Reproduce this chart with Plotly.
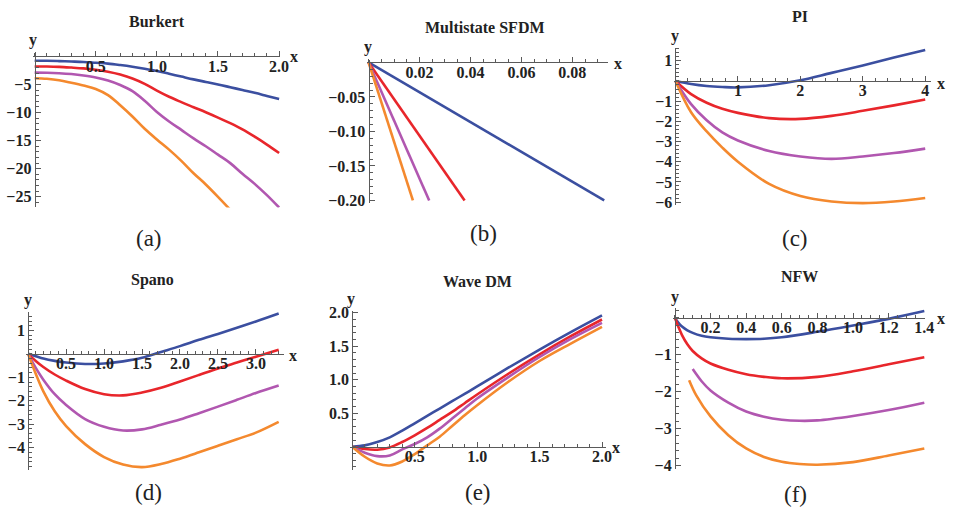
import plotly.graph_objects as go

W, H = 956, 526
BLUE, RED, PURPLE, ORANGE = '#3B4FA0', '#E8262B', '#B157B0', '#F4892E'
COLORS = [BLUE, RED, PURPLE, ORANGE]

# ---------------- data ----------------
# (a) Burkert
burkert_x = [0, 0.1, 0.2, 0.3, 0.4, 0.5, 0.6, 0.7, 0.8, 0.9, 1.0, 1.1, 1.2, 1.3, 1.4, 1.5, 1.6, 1.7, 1.8, 1.9, 2.0]
burkert_blue = [-0.8, -0.8, -0.85, -0.92, -1.0, -1.15, -1.3, -1.55, -1.85, -2.2, -2.6, -3.1, -3.6, -4.1, -4.55, -5.0, -5.5, -6.0, -6.5, -7.05, -7.6]
burkert_red = [-1.8, -1.82, -1.88, -2.0, -2.15, -2.4, -2.75, -3.25, -3.95, -4.9, -6.1, -7.2, -8.15, -9.05, -9.95, -10.9, -11.9, -13.0, -14.3, -15.7, -17.2]
burkert_purple = [-2.9, -2.92, -3.0, -3.15, -3.4, -3.75, -4.3, -5.1, -6.2, -7.9, -9.9, -11.6, -13.1, -14.6, -16.0, -17.5, -19.0, -20.9, -22.7, -24.7, -26.9]
burkert_orange_x = [0, 0.1, 0.2, 0.3, 0.4, 0.5, 0.6, 0.7, 0.8, 0.9, 1.0, 1.1, 1.2, 1.3, 1.4, 1.5, 1.6]
burkert_orange = [-3.9, -4.0, -4.25, -4.7, -5.2, -5.8, -6.9, -8.7, -10.7, -12.9, -14.8, -16.6, -18.6, -20.8, -22.8, -25.0, -27.3]

# (b) Multistate SFDM (straight lines from the origin)
sfdm_x_end = [0.0925, 0.0377, 0.0238, 0.0174]
sfdm_y = [0, -0.2]

# (c) PI
pi_x = [0, 0.25, 0.5, 0.75, 1.0, 1.5, 2.0, 2.5, 3.0, 3.5, 4.0]
pi_blue = [0, -0.15, -0.25, -0.3, -0.32, -0.21, 0.03, 0.4, 0.77, 1.16, 1.53]
pi_red = [0, -0.65, -1.08, -1.38, -1.58, -1.84, -1.88, -1.73, -1.48, -1.21, -0.92]
pi_purple = [0, -1.15, -1.95, -2.55, -2.95, -3.47, -3.74, -3.86, -3.74, -3.57, -3.35]
pi_orange = [0, -1.55, -2.5, -3.3, -4.0, -5.1, -5.7, -5.97, -6.05, -5.97, -5.8]

# (d) Spano
spano_x = [0, 0.1, 0.2, 0.35, 0.5, 0.75, 1.0, 1.25, 1.5, 1.75, 2.0, 2.25, 2.5, 2.75, 3.0, 3.3]
spano_blue = [0, -0.1, -0.2, -0.3, -0.37, -0.43, -0.41, -0.32, -0.17, 0.08, 0.33, 0.6, 0.85, 1.11, 1.38, 1.72]
spano_red = [0, -0.3, -0.56, -0.88, -1.14, -1.5, -1.72, -1.77, -1.65, -1.45, -1.18, -0.9, -0.62, -0.37, -0.12, 0.18]
spano_purple = [0, -0.6, -1.1, -1.72, -2.18, -2.78, -3.11, -3.27, -3.22, -3.02, -2.8, -2.53, -2.25, -1.96, -1.67, -1.35]
spano_orange = [0, -0.85, -1.6, -2.45, -3.08, -3.85, -4.4, -4.72, -4.83, -4.7, -4.47, -4.2, -3.92, -3.64, -3.36, -2.9]

# (e) Wave DM
wave_x = [0, 0.1, 0.2, 0.3, 0.4, 0.5, 0.6, 0.7, 0.8, 0.9, 1.0, 1.25, 1.5, 1.75, 2.0]
wave_blue = [0, 0.02, 0.07, 0.14, 0.24, 0.35, 0.46, 0.57, 0.68, 0.79, 0.9, 1.18, 1.45, 1.71, 1.96]
wave_red = [0, -0.035, -0.045, -0.01, 0.07, 0.17, 0.28, 0.4, 0.52, 0.65, 0.78, 1.09, 1.38, 1.65, 1.9]
wave_purple = [0, -0.09, -0.14, -0.13, -0.04, 0.04, 0.14, 0.27, 0.42, 0.57, 0.72, 1.04, 1.34, 1.61, 1.85]
wave_orange = [0, -0.15, -0.25, -0.28, -0.22, -0.11, 0.02, 0.15, 0.31, 0.47, 0.62, 0.97, 1.28, 1.54, 1.79]

# (f) NFW
nfw_x = [0, 0.02, 0.04, 0.07, 0.1, 0.15, 0.2, 0.3, 0.4, 0.5, 0.6, 0.8, 1.0, 1.2, 1.4]
nfw_blue = [0, -0.14, -0.24, -0.34, -0.41, -0.49, -0.53, -0.57, -0.58, -0.57, -0.53, -0.38, -0.21, -0.03, 0.18]
nfw_red = [0, -0.25, -0.47, -0.72, -0.9, -1.1, -1.24, -1.41, -1.53, -1.6, -1.64, -1.6, -1.45, -1.26, -1.07]
nfw_purple_x = [0.1, 0.15, 0.2, 0.3, 0.4, 0.5, 0.6, 0.7, 0.8, 1.0, 1.2, 1.4]
nfw_purple = [-1.39, -1.72, -1.97, -2.3, -2.54, -2.68, -2.76, -2.79, -2.78, -2.66, -2.5, -2.3]
nfw_orange_x = [0.08, 0.12, 0.2, 0.3, 0.4, 0.5, 0.6, 0.7, 0.8, 1.0, 1.2, 1.4]
nfw_orange = [-1.69, -2.1, -2.67, -3.18, -3.54, -3.77, -3.9, -3.96, -3.98, -3.91, -3.73, -3.54]

titles = ['Burkert', 'Multistate SFDM', 'PI', 'Spano', 'Wave DM', 'NFW']
sublabels = ['(a)', '(b)', '(c)', '(d)', '(e)', '(f)']

series = [
    [(burkert_x, burkert_blue), (burkert_x, burkert_red), (burkert_x, burkert_purple), (burkert_orange_x, burkert_orange)],
    [([0, xe], sfdm_y) for xe in sfdm_x_end],
    [(pi_x, pi_blue), (pi_x, pi_red), (pi_x, pi_purple), (pi_x, pi_orange)],
    [(spano_x, spano_blue), (spano_x, spano_red), (spano_x, spano_purple), (spano_x, spano_orange)],
    [(wave_x, wave_blue), (wave_x, wave_red), (wave_x, wave_purple), (wave_x, wave_orange)],
    [(nfw_x, nfw_blue), (nfw_x, nfw_red), (nfw_purple_x, nfw_purple), (nfw_orange_x, nfw_orange)],
]

# ---------------- layout specs ----------------
panels = [
    dict(box=(33, 283, 46.9, 206.2), xr=(-0.016, 2.01), yr=(-26.9, 0.8),
         xt=[0.5, 1.0, 1.5, 2.0], yt=[-5, -10, -15, -20, -25], xm=0.1, ym=1, xf='.1f', yf='d',
         title_px=(158, 16), lab_px=(150, 238), ylab_px=(33, 35), xlab_px=(297, 52)),
    dict(box=(370, 613.3, 54.9, 201.6), xr=(-0.0008, 0.0938), yr=(-0.2037, 0.004),
         xt=[0.02, 0.04, 0.06, 0.08], yt=[-0.05, -0.10, -0.15, -0.20], xm=0.005, ym=0.01, xf='.2f', yf='.2f',
         title_px=(490, 22), lab_px=(488, 233), ylab_px=(371, 42), xlab_px=(624, 59)),
    dict(box=(680, 940, 42.6, 204), xr=(-0.03, 4.095), yr=(-6.16, 1.65),
         xt=[1, 2, 3, 4], yt=[1, -1, -2, -3, -4, -5, -6], xm=0.2, ym=0.2, xf='d', yf='d',
         title_px=(808, 11), lab_px=(803, 238), ylab_px=(681.7, 31), xlab_px=(950, 79)),
    dict(box=(26.5, 286.7, 312.8, 475), xr=(-0.025, 3.37), yr=(-4.96, 1.8),
         xt=[0.5, 1.0, 1.5, 2.0, 2.5, 3.0], yt=[1, -1, -2, -3, -4], xm=0.1, ym=0.2, xf='.1f', yf='d',
         title_px=(154, 280), lab_px=(150, 498), ylab_px=(28, 301), xlab_px=(296, 358)),
    dict(box=(353.5, 611.5, 311.9, 475), xr=(-0.017, 2.03), yr=(-0.35, 2.03),
         xt=[0.5, 1.0, 1.5, 2.0], yt=[0.5, 1.0, 1.5, 2.0], xm=0.1, ym=0.1, xf='.1f', yf='.1f',
         title_px=(482, 282), lab_px=(483, 498), ylab_px=(354, 300), xlab_px=(622, 452)),
    dict(box=(679.5, 934, 309.2, 473.6), xr=(-0.01, 1.405), yr=(-4.09, 0.26),
         xt=[0.2, 0.4, 0.6, 0.8, 1.0, 1.2, 1.4], yt=[-1, -2, -3, -4], xm=0.05, ym=0.2, xf='.1f', yf='d',
         title_px=(807, 277), lab_px=(803, 500), ylab_px=(681.7, 298), xlab_px=(950, 320)),
]

AXC = '#5a5a5a'
TICKFONT = dict(family='Liberation Serif', size=16, color='#222')


def labels(vals, fmt):
    out = []
    for v in vals:
        s = format(int(v), 'd') if fmt == 'd' else format(v, fmt)
        out.append('<b>' + s.replace('-', '\u2212') + '</b>')
    return out


fig = go.Figure()
annotations = []
layout = dict(width=W, height=H, margin=dict(l=0, r=0, t=0, b=0),
              paper_bgcolor='white', plot_bgcolor='white', showlegend=False)


def px_to_paper(x, y):
    return x / W, 1 - y / H


for i, (p, ser) in enumerate(zip(panels, series)):
    n = '' if i == 0 else str(i + 1)
    l, r, t, b = p['box']
    dx0, dx1 = l / W, r / W
    dy0, dy1 = 1 - b / H, 1 - t / H
    x0, x1 = p['xr']
    y0, y1 = p['yr']
    xpos = dy0 + (0 - y0) / (y1 - y0) * (dy1 - dy0)
    ypos = dx0 + (0 - x0) / (x1 - x0) * (dx1 - dx0)

    for (xs, ys), c in zip(ser, COLORS):
        fig.add_trace(go.Scatter(x=xs, y=ys, mode='lines',
                                 line=dict(color=c, width=2.6, shape='spline', smoothing=1.0),
                                 xaxis='x' + n, yaxis='y' + n, hoverinfo='skip'))

    common = dict(showgrid=False, zeroline=False, showline=True, linecolor=AXC, linewidth=1,
                  ticks='inside', ticklen=5, tickwidth=1, tickcolor=AXC, tickfont=TICKFONT,
                  tickmode='array', anchor='free', layer='above traces')
    layout['xaxis' + n] = dict(common, domain=[dx0, dx1], range=[x0, x1], position=xpos, side='bottom',
                               tickvals=p['xt'], ticktext=labels(p['xt'], p['xf']), ticklabelstandoff=-5,
                               minor=dict(ticks='inside', ticklen=3, tickwidth=1, tickcolor=AXC,
                                          tickmode='linear', tick0=0, dtick=p['xm']))
    layout['yaxis' + n] = dict(common, domain=[dy0, dy1], range=[y0, y1], position=ypos, side='left',
                               tickvals=p['yt'], ticktext=labels(p['yt'], p['yf']),
                               minor=dict(ticks='inside', ticklen=3, tickwidth=1, tickcolor=AXC,
                                          tickmode='linear', tick0=0, dtick=p['ym']))

    tx, ty = px_to_paper(*p['title_px'])
    annotations.append(dict(text='<b>' + titles[i] + '</b>', x=tx, y=ty, xref='paper', yref='paper',
                            showarrow=False, xanchor='center', yanchor='middle',
                            font=dict(family='Liberation Serif', size=16, color='#222')))
    lx, ly = px_to_paper(*p['lab_px'])
    annotations.append(dict(text=sublabels[i], x=lx, y=ly, xref='paper', yref='paper', showarrow=False,
                            xanchor='center', yanchor='middle',
                            font=dict(family='Liberation Serif', size=23, color='#222')))
    for txt, key in (('y', 'ylab_px'), ('x', 'xlab_px')):
        ax_, ay_ = px_to_paper(*p[key])
        annotations.append(dict(text='<b>' + txt + '</b>', x=ax_, y=ay_, xref='paper', yref='paper',
                                showarrow=False, xanchor='center', yanchor='middle',
                                font=dict(family='Liberation Serif', size=16, color='#222')))

layout['annotations'] = annotations
fig.update_layout(**layout)
fig.write_html('out.html', config={'displayModeBar': False},
               post_script="document.body.style.margin='0px';")
